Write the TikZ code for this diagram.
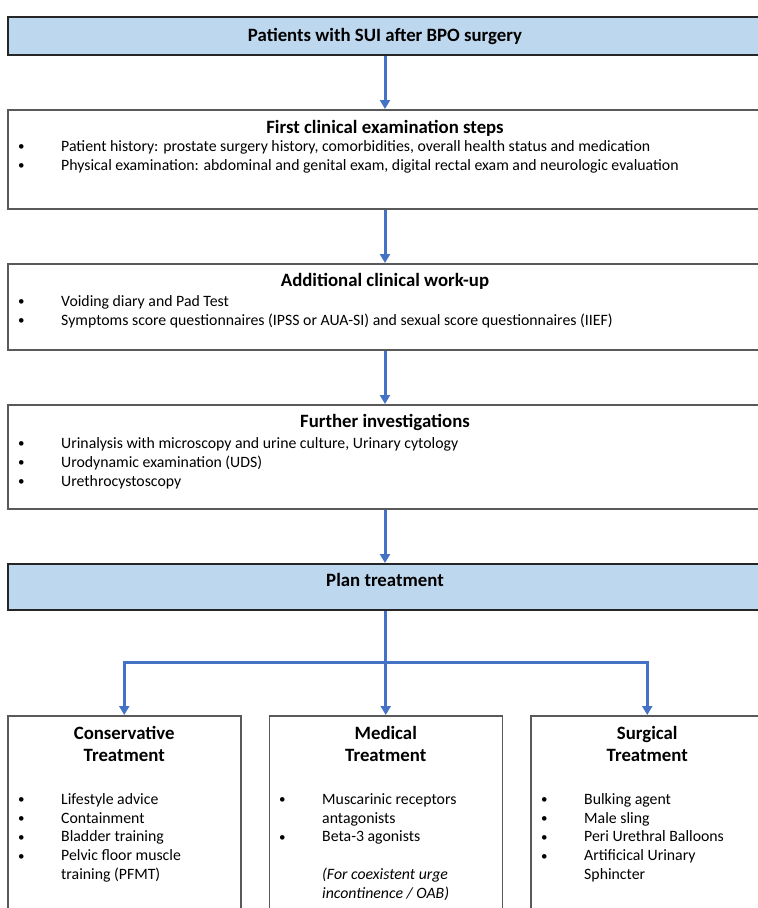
\documentclass[tikz,border=0pt]{standalone}
\usepackage{fontspec}
\setmainfont{Carlito}
\usetikzlibrary{arrows.meta}
\definecolor{arrowblue}{HTML}{4472C4}
\definecolor{boxblue}{HTML}{BDD7EE}
\definecolor{darkframe}{HTML}{262626}
\definecolor{grayframe}{HTML}{595959}
\newcommand{\bul}{\makebox[43pt][l]{\raisebox{0.6pt}{\fontsize{13}{13}\selectfont\textbullet}}}
\newcommand{\cont}{\hspace*{43pt}}
\newcommand{\fs}{\rule{0pt}{14pt}}
\newcommand{\fsh}{\rule{0pt}{16pt}}
\begin{document}
\begin{tikzpicture}[x=1pt,y=-1pt,
  bluebox/.style={draw=darkframe, fill=boxblue, line width=1.5pt, rectangle, inner sep=0pt, anchor=north west},
  whitebox/.style={draw=grayframe, fill=white, line width=1.5pt, rectangle, inner sep=0pt, anchor=north west},
  hdr/.style={font=\fontsize{18.8}{23}\selectfont\bfseries, inner sep=0pt, anchor=base},
  hdrtwo/.style={font=\fontsize{18.8}{22.5}\selectfont\bfseries, inner sep=0pt, anchor=north, align=center},
  lst/.style={font=\fontsize{15.8}{19}\selectfont, inner sep=0pt, anchor=north west, align=left},
  lsttwo/.style={font=\fontsize{15.8}{18.8}\selectfont, inner sep=0pt, anchor=north west, align=left},
  arr/.style={draw=arrowblue, line width=3pt, -{Triangle[width=10pt,length=9pt]}}
]
\clip (0,0) rectangle (758,908);
\fill[white] (0,0) rectangle (758,908);

% boxes
\node[bluebox, minimum width=756pt, minimum height=38pt] (start) at (7,16) {};
\node[whitebox, minimum width=756pt, minimum height=99pt] (first) at (7,109) {};
\node[whitebox, minimum width=756pt, minimum height=86pt] (addl) at (7,263) {};
\node[whitebox, minimum width=756pt, minimum height=104pt] (further) at (7,404) {};
\node[bluebox, minimum width=756pt, minimum height=46pt] (plan) at (7,563) {};
\node[whitebox, minimum width=233pt, minimum height=260pt] (cons) at (7,715) {};
\node[whitebox, minimum width=233pt, minimum height=260pt] (med) at (268.5,715) {};
\node[whitebox, minimum width=233pt, minimum height=260pt] (surg) at (530,715) {};

% texts
\node[hdr] (startT) at (385,41) {Patients with SUI after BPO surgery};

\node[hdr] (firstT) at (385,133) {First clinical examination steps};
\node[lst] (firstL) at (18,137) {\fs\bul Patient history: prostate surgery history, comorbidities, overall health status and medication\\
\bul Physical examination: abdominal and genital exam, digital rectal exam and neurologic evaluation};

\node[hdr] (addlT) at (385,286.5) {Additional clinical work-up};
\node[lst] (addlL) at (18,292) {\fs\bul Voiding diary and Pad Test\\
\bul Symptoms score questionnaires (IPSS or AUA-SI) and sexual score questionnaires (IIEF)};

\node[hdr] (furtherT) at (385,427.5) {Further investigations};
\node[lst] (furtherL) at (18,434) {\fs\bul Urinalysis with microscopy and urine culture, Urinary cytology\\
\bul Urodynamic examination (UDS)\\
\bul Urethrocystoscopy};

\node[hdr] (planT) at (385,586.5) {Plan treatment};

\node[hdrtwo] (consT) at (cons.north |- 0,723) {\fsh Conservative\\Treatment};
\node[hdrtwo] (medT) at (med.north |- 0,723) {\fsh Medical\\Treatment};
\node[hdrtwo] (surgT) at (surg.north |- 0,723) {\fsh Surgical\\Treatment};

\node[lsttwo] (consL) at (18,790) {\fs\bul Lifestyle advice\\
\bul Containment\\
\bul Bladder training\\
\bul Pelvic floor muscle\\
\cont training (PFMT)};
\node[lsttwo] (medL) at (279,790) {\fs\bul Muscarinic receptors\\
\cont antagonists\\
\bul Beta-3 agonists\\
\mbox{}\\
\cont\textit{(For coexistent urge}\\
\cont\textit{incontinence / OAB)}};
\node[lsttwo] (surgL) at (541,790) {\fs\bul Bulking agent\\
\bul Male sling\\
\bul Peri Urethral Balloons\\
\bul Artificical Urinary\\
\cont Sphincter};

% connectors
\coordinate (cx) at (385,0);
\coordinate (jn) at (385,662);
\draw[arr] (start.south -| cx) -- (first.north -| cx);
\draw[arr] (first.south -| cx) -- (addl.north -| cx);
\draw[arr] (addl.south -| cx) -- (further.north -| cx);
\draw[arr] (further.south -| cx) -- (plan.north -| cx);
\draw[arr] (plan.south -| med.north) -- (med.north);
\draw[arr] (jn) -- (jn -| cons.north) -- (cons.north);
\draw[arr] (jn) -- (jn -| surg.north) -- (surg.north);
\end{tikzpicture}
\end{document}
